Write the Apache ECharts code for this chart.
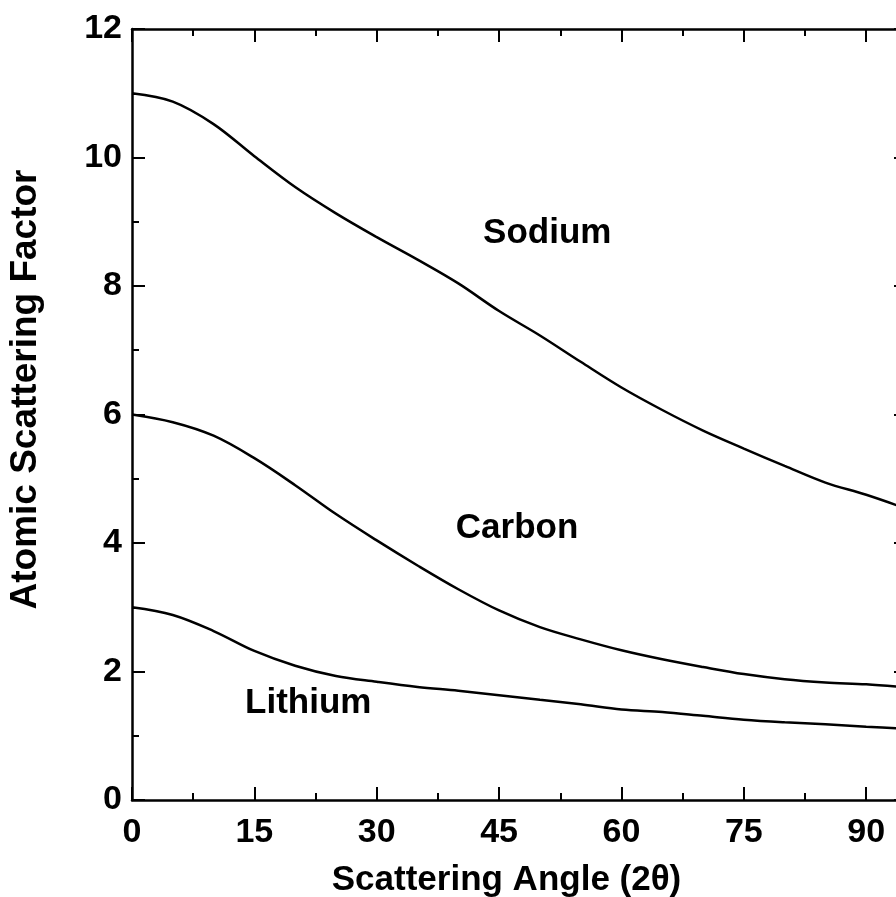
<!DOCTYPE html>
<html>
<head>
<meta charset="utf-8">
<script src="https://cdn.jsdelivr.net/npm/echarts@6/dist/echarts.min.js"></script>
<style>
html,body{margin:0;padding:0;background:#fff;}
#chart{width:896px;height:897px;}
</style>
</head>
<body>
<div id="chart"></div>
<script>
const angles  = [0,5,10,15,20,25,30,35,40,45,50,55,60,65,70,75,80,85,90,95];
const sodium  = [11.0,10.87,10.52,10.02,9.54,9.13,8.76,8.41,8.04,7.61,7.23,6.82,6.42,6.07,5.75,5.47,5.2,4.94,4.75,4.53];
const carbon  = [6.0,5.88,5.67,5.32,4.90,4.45,4.04,3.65,3.28,2.95,2.69,2.50,2.33,2.19,2.07,1.96,1.88,1.83,1.80,1.75];
const lithium = [3.0,2.88,2.63,2.32,2.09,1.93,1.84,1.76,1.70,1.63,1.56,1.49,1.41,1.37,1.31,1.25,1.21,1.18,1.14,1.11];
const curveLabels = [
  {name: 'Sodium',  x: 50.9, y: 8.82},
  {name: 'Carbon',  x: 47.2, y: 4.23},
  {name: 'Lithium', x: 21.6, y: 1.51}
];
const xTitle = 'Scattering Angle (2\u03B8)';
const yTitle = 'Atomic Scattering Factor';

const FONT = '"Liberation Sans", Arial, Helvetica, sans-serif';
const pair = (xs, ys) => xs.map((x, i) => [x, ys[i]]);

const axisCommon = {
  axisLine: {show: true, onZero: false, lineStyle: {color: '#000', width: 2.5}},
  axisTick: {show: true, inside: true, length: 13, lineStyle: {color: '#000', width: 2}},
  minorTick: {show: true, splitNumber: 2, length: 7, lineStyle: {color: '#000', width: 2}},
  splitLine: {show: false},
  minorSplitLine: {show: false}
};

const lineSeries = (data) => ({
  type: 'line', data: data, smooth: 0.35, symbol: 'none',
  lineStyle: {color: '#000', width: 2.5}, silent: true
});

const chart = echarts.init(document.getElementById('chart'), null, {renderer: 'canvas'});
chart.setOption({
  backgroundColor: '#fff',
  animation: false,
  grid: {left: 132, top: 29, width: 775, height: 771, containLabel: false, outerBoundsMode: 'none'},
  xAxis: [
    Object.assign({}, axisCommon, {
      type: 'value', min: 0, max: 95, interval: 15, position: 'bottom',
      axisLabel: {show: true, margin: 16, color: '#000', fontFamily: FONT, fontWeight: 'bold', fontSize: 34,
        formatter: v => (v % 15 === 0 && v <= 90) ? String(v) : ''},
      name: xTitle, nameLocation: 'middle', nameGap: 63,
      nameTextStyle: {color: '#000', fontFamily: FONT, fontWeight: 'bold', fontSize: 35, padding: [0, 26, 0, 0]}
    }),
    Object.assign({}, axisCommon, {
      type: 'value', min: 0, max: 95, interval: 15, position: 'top',
      axisLabel: {show: false}
    })
  ],
  yAxis: [
    Object.assign({}, axisCommon, {
      type: 'value', min: 0, max: 12, interval: 2, position: 'left',
      axisLabel: {show: true, margin: 10, color: '#000', fontFamily: FONT, fontWeight: 'bold', fontSize: 34},
      name: yTitle, nameLocation: 'middle', nameGap: 88,
      nameTextStyle: {color: '#000', fontFamily: FONT, fontWeight: 'bold', fontSize: 37, padding: [0, 0, 0, 50]}
    }),
    Object.assign({}, axisCommon, {
      type: 'value', min: 0, max: 12, interval: 2, position: 'right',
      axisLabel: {show: false}
    })
  ],
  series: [
    lineSeries(pair(angles, sodium)),
    lineSeries(pair(angles, carbon)),
    lineSeries(pair(angles, lithium)),
    {
      type: 'scatter', symbolSize: 0, silent: true,
      itemStyle: {opacity: 1, color: '#000'},
      data: curveLabels.map(d => ({name: d.name, value: [d.x, d.y]})),
      label: {show: true, position: 'inside', formatter: p => p.name, opacity: 1,
        color: '#000', fontFamily: FONT, fontWeight: 'bold', fontSize: 35}
    }
  ]
});
</script>
</body>
</html>
